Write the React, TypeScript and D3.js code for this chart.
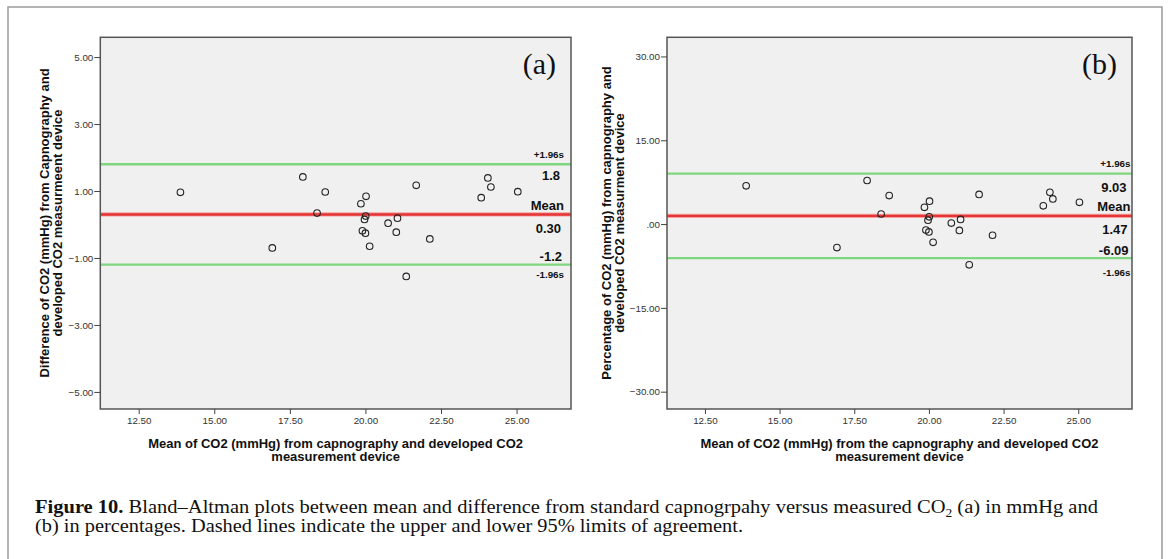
import React, { useRef, useEffect } from 'react';
import * as d3 from 'd3';

// mean of the two devices (x) and the two difference measures (y)
const meanCO2 = [13.88, 17.93, 18.67, 18.4, 16.92, 19.85, 20.02, 20.01, 19.97, 19.9, 20.0, 20.14, 20.75, 21.06, 21.02, 22.13, 21.68, 21.35, 23.83, 24.05, 24.15, 25.04];
const diffMmHg = [0.96, 1.42, 0.97, 0.34, -0.7, 0.62, 0.84, 0.25, 0.15, -0.19, -0.26, -0.65, 0.04, 0.19, -0.23, -0.43, 1.17, -1.55, 0.8, 1.39, 1.12, 0.98];
const diffPct = [6.84, 7.8, 5.1, 1.8, -4.2, 3.0, 4.1, 1.3, 0.7, -1.07, -1.4, -3.27, 0.18, 0.83, -1.13, -2.0, 5.3, -7.3, 3.27, 5.7, 4.5, 3.9];

// mean and limits of agreement
const limitsMmHg = { mean: 0.3, upper: 1.8, lower: -1.2 };
const limitsPct = { mean: 1.47, upper: 9.03, lower: -6.09 };
const limitLabelsMmHg = ['1.8', '0.30', '-1.2'];
const limitLabelsPct = ['9.03', '1.47', '-6.09'];

const xTicks = [12.5, 15, 17.5, 20, 22.5, 25];
const yTicksMmHg = [5, 3, 1, -1, -3, -5];
const yTicksPct = [30, 15, 0, -15, -30];

const SANS = 'Liberation Sans, Arial, sans-serif';
const SERIF = 'Liberation Serif, Times New Roman, serif';

const drawPanel = (svg, p) => {
  const x = d3.scaleLinear().domain([11.23, 26.8]).range([p.left, p.right]);
  const y = d3.scaleLinear().domain(p.yDomain).range([409, 37.3]);
  const g = svg.append('g');

  g.append('rect')
    .attr('x', p.left).attr('y', 37.3)
    .attr('width', p.right - p.left).attr('height', 409 - 37.3)
    .attr('fill', '#f0f0f0');

  // limit lines
  const lines = [
    { v: p.limits.upper, c: '#7ed67e', w: 2.4 },
    { v: p.limits.lower, c: '#7ed67e', w: 2.4 },
    { v: p.limits.mean, c: '#f4a0a0', w: 4.2 },
    { v: p.limits.mean, c: '#e53535', w: 2.4 },
  ];
  g.selectAll('line.lim').data(lines).enter().append('line')
    .attr('x1', p.left).attr('x2', p.right)
    .attr('y1', d => y(d.v)).attr('y2', d => y(d.v))
    .attr('stroke', d => d.c).attr('stroke-width', d => d.w);

  g.selectAll('circle').data(meanCO2).enter().append('circle')
    .attr('cx', d => x(d))
    .attr('cy', (d, i) => y(p.values[i]))
    .attr('r', 3.3)
    .attr('fill', 'none').attr('stroke', '#222').attr('stroke-width', 1.1);

  g.append('rect')
    .attr('x', p.left).attr('y', 37.3)
    .attr('width', p.right - p.left).attr('height', 409 - 37.3)
    .attr('fill', 'none').attr('stroke', '#555').attr('stroke-width', 1.5);

  const yAxis = g.append('g').attr('transform', `translate(${p.left},0)`)
    .call(d3.axisLeft(y).tickValues(p.yTicks).tickSize(6).tickPadding(1).tickFormat(p.yFormat));
  const xAxis = g.append('g').attr('transform', 'translate(0,409)')
    .call(d3.axisBottom(x).tickValues(xTicks).tickSize(5).tickPadding(3).tickFormat(d3.format('.2f')));
  [yAxis, xAxis].forEach(a => {
    a.select('.domain').remove();
    a.selectAll('line').attr('stroke', '#444');
    a.selectAll('text').attr('font-family', SANS).attr('font-size', 9.8).attr('fill', '#333');
  });

  // labels beside the limit lines
  const lab = [
    { t: '+1.96s', v: p.limits.upper, dy: -10, s: 9.8, dx: 0 },
    { t: p.limitLabels[0], v: p.limits.upper, dy: p.offs[0], s: 13, dx: -4 },
    { t: 'Mean', v: p.limits.mean, dy: -9, s: 13, dx: 0 },
    { t: p.limitLabels[1], v: p.limits.mean, dy: 14, s: 13, dx: -3 },
    { t: p.limitLabels[2], v: p.limits.lower, dy: -8, s: 13, dx: -2 },
    { t: '-1.96s', v: p.limits.lower, dy: p.offs[1], s: 9.8, dx: 0 },
  ];
  g.selectAll('text.lab').data(lab).enter().append('text')
    .attr('x', d => p.labelRight + d.dx)
    .attr('y', d => y(d.v) + d.dy)
    .attr('dy', '0.35em')
    .attr('text-anchor', 'end')
    .attr('font-family', SANS).attr('font-weight', 'bold')
    .attr('font-size', d => d.s).attr('fill', '#111')
    .text(d => d.t);

  g.append('text')
    .attr('x', p.tagRight).attr('y', 73.5)
    .attr('text-anchor', 'end')
    .attr('font-family', SERIF).attr('font-size', 30).attr('fill', '#111')
    .text(p.tag);

  p.yTitle.forEach((t, i) => {
    g.append('text')
      .attr('transform', `translate(${p.yTitleX[i]},223) rotate(-90)`)
      .attr('dy', '0.35em')
      .attr('text-anchor', 'middle')
      .attr('font-family', SANS).attr('font-weight', 'bold').attr('font-size', 13).attr('fill', '#111')
      .text(t);
  });
  p.xTitle.forEach((t, i) => {
    g.append('text')
      .attr('x', (p.left + p.right) / 2).attr('y', 443 + i * 13)
      .attr('dy', '0.35em')
      .attr('text-anchor', 'middle')
      .attr('font-family', SANS).attr('font-weight', 'bold').attr('font-size', 13).attr('fill', '#111')
      .text(t);
  });
};

const App = () => {
  const svgRef = useRef(null);

  useEffect(() => {
    const svg = d3.select(svgRef.current);
    svg.selectAll('*').remove();

    // figure frame (open at the bottom)
    svg.append('path')
      .attr('d', 'M8,570 L8,7 L1162,7 L1162,570')
      .attr('fill', 'none').attr('stroke', '#9a9a9a').attr('stroke-width', 1.5);

    drawPanel(svg, {
      left: 100.3, right: 571, yDomain: [-5.51, 5.59],
      values: diffMmHg, limits: limitsMmHg, limitLabels: limitLabelsMmHg,
      yTicks: yTicksMmHg, yFormat: d3.format('.2f'),
      labelRight: 564, offs: [11, 10], tag: '(a)', tagRight: 556,
      yTitle: ['Difference of CO2 (mmHg) from Capnography and', 'developed CO2 measurmeent device'],
      yTitleX: [44, 57.4],
      xTitle: ['Mean of CO2 (mmHg) from capnography and developed CO2', 'measurement device'],
    });

    drawPanel(svg, {
      left: 667, right: 1132, yDomain: [-33.1, 33.43],
      values: diffPct, limits: limitsPct, limitLabels: limitLabelsPct,
      yTicks: yTicksPct, yFormat: d => (d === 0 ? '.00' : d3.format('.2f')(d)),
      labelRight: 1130.5, offs: [14, 14], tag: '(b)', tagRight: 1117,
      yTitle: ['Percentage of CO2 (mmHg) from capnography and', 'developed CO2 measurment device'],
      yTitleX: [606, 619],
      xTitle: ['Mean of CO2 (mmHg) from the capnography and developed CO2', 'measurement device'],
    });

    // caption
    const cap1 = svg.append('text')
      .attr('x', 35).attr('y', 512.5)
      .attr('font-family', SERIF).attr('font-size', 19).attr('fill', '#111')
      .attr('textLength', 1063).attr('lengthAdjust', 'spacingAndGlyphs');
    cap1.append('tspan').attr('font-weight', 'bold').text('Figure 10.');
    cap1.append('tspan').text(' Bland–Altman plots between mean and difference from standard capnogrpahy versus measured CO');
    cap1.append('tspan').attr('font-size', 12.5).attr('dy', 4).text('2');
    cap1.append('tspan').attr('dy', -4).text(' (a) in mmHg and');

    svg.append('text')
      .attr('x', 35).attr('y', 531.5)
      .attr('font-family', SERIF).attr('font-size', 19).attr('fill', '#111')
      .attr('textLength', 708).attr('lengthAdjust', 'spacingAndGlyphs')
      .text('(b) in percentages. Dashed lines indicate the upper and lower 95% limits of agreement.');
  }, []);

  return (
    <svg ref={svgRef} width={1168} height={559}
      style={{ position: 'absolute', left: 0, top: 0, background: '#fff' }}></svg>
  );
};

export default App;
